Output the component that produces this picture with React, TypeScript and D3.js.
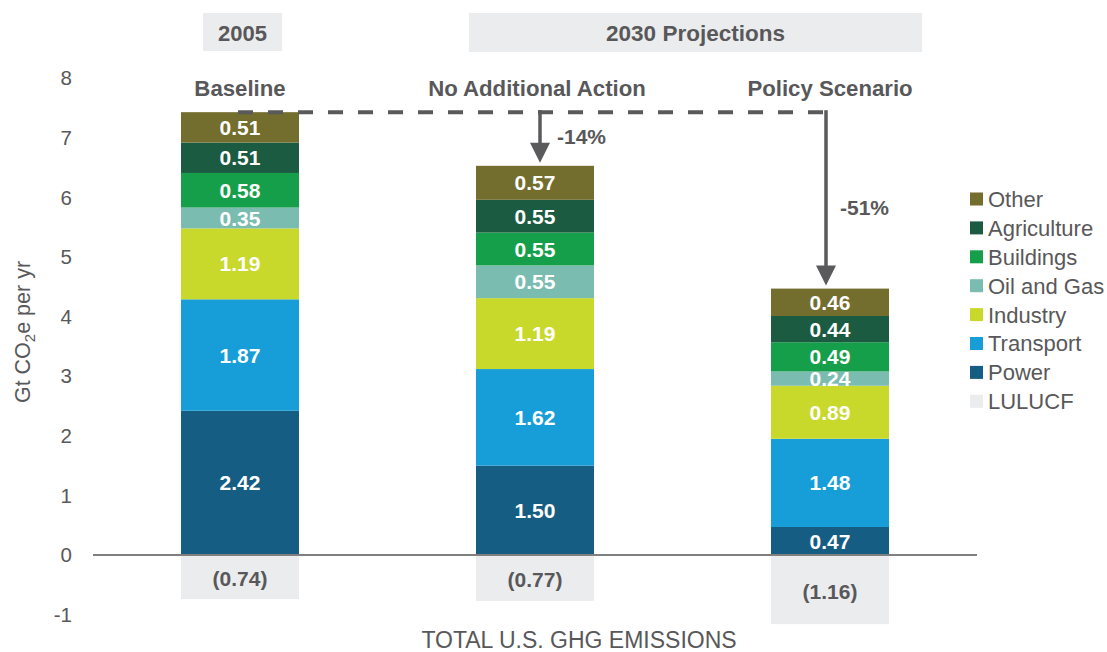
import React from "react";
import * as d3 from "d3";

const scenarios = ["Baseline", "No Additional Action", "Policy Scenario"];
const sectors = ["Power", "Transport", "Industry", "Oil and Gas", "Buildings", "Agriculture", "Other"];
const power = [2.42, 1.5, 0.47];
const transport = [1.87, 1.62, 1.48];
const industry = [1.19, 1.19, 0.89];
const oilGas = [0.35, 0.55, 0.24];
const buildings = [0.58, 0.55, 0.49];
const agriculture = [0.51, 0.55, 0.44];
const other = [0.51, 0.57, 0.46];
const lulucf = [-0.74, -0.77, -1.16];
const yTicks = [-1, 0, 1, 2, 3, 4, 5, 6, 7, 8];
const changeLabels = ["-14%", "-51%"];
const legendItems = ["Other", "Agriculture", "Buildings", "Oil and Gas", "Industry", "Transport", "Power", "LULUCF"];

const colors: Record<string, string> = {
  Other: "#736d2e",
  Agriculture: "#1b5b41",
  Buildings: "#169f4a",
  "Oil and Gas": "#7bbcb1",
  Industry: "#c9d92c",
  Transport: "#179ed8",
  Power: "#165d84",
  LULUCF: "#ebeced",
};

const seriesValues = [power, transport, industry, oilGas, buildings, agriculture, other];

const W = 1107;
const H = 652;
const FONT = "'Liberation Sans', Arial, Helvetica, sans-serif";
const TXT = "#58585a";

export default function App() {
  const y = d3.scaleLinear().domain([-1, 8]).range([614.6, 78.2]);
  const x = d3.scalePoint<string>().domain(scenarios).range([240, 830]);
  const barW = 118;

  const table = scenarios.map((s, i) => {
    const row: any = { scenario: s };
    sectors.forEach((k, j) => (row[k] = seriesValues[j][i]));
    return row;
  });
  const stacked = d3.stack<any>().keys(sectors)(table);
  const totals = scenarios.map((_, i) => d3.sum(seriesValues, (v) => v[i]));
  const fmt = d3.format(".2f");

  const baseY = y(totals[0]);
  const arrowX = [x(scenarios[1])! + 5, x(scenarios[2])! - 4];

  return (
    <svg width={W} height={H} style={{ position: "absolute", left: 0, top: 0, display: "block", background: "#fff" }} fontFamily={FONT}>
      {/* headers */}
      <rect x={203} y={13} width={79} height={38} fill="#ebeced" />
      <text x={242.5} y={41} textAnchor="middle" fontSize={22} fontWeight="bold" fill={TXT}>2005</text>
      <rect x={469} y={13} width={453} height={39} fill="#ebeced" />
      <text x={695.5} y={41} textAnchor="middle" fontSize={22.5} fontWeight="bold" fill={TXT}>2030 Projections</text>

      {/* scenario labels */}
      {scenarios.map((s) => (
        <text key={s} x={x(s)! + (s === "No Additional Action" ? 2 : 0)} y={96} textAnchor="middle" fontSize={22.2} fontWeight="bold" fill={TXT}>{s}</text>
      ))}

      {/* y ticks */}
      {yTicks.map((t) => (
        <text key={t} x={72} y={y(t)} dy="0.35em" textAnchor="end" fontSize={20.5} fill={TXT}>{t}</text>
      ))}

      {/* y label */}
      <text transform={`translate(30,332) rotate(-90)`} textAnchor="middle" fontSize={21.5} fill={TXT}>
        Gt CO<tspan fontSize={15} dy={5}>2</tspan><tspan dy={-5}>e per yr</tspan>
      </text>

      {/* LULUCF bars */}
      {scenarios.map((s, i) => (
        <g key={"l" + s}>
          <rect x={x(s)! - barW / 2} y={y(0)} width={barW} height={y(lulucf[i]) - y(0)} fill={colors.LULUCF} />
          <text x={x(s)} y={(y(0) + y(lulucf[i])) / 2 + 2} dy="0.35em" textAnchor="middle" fontSize={21} fontWeight="bold" fill={TXT}>
            ({fmt(Math.abs(lulucf[i]))})
          </text>
        </g>
      ))}

      {/* stacked bars */}
      {stacked.map((layer) => (
        <g key={layer.key}>
          {layer.map((d, i) => (
            <g key={i}>
              <rect x={x(d.data.scenario)! - barW / 2} y={y(d[1])} width={barW} height={y(d[0]) - y(d[1])} fill={colors[layer.key]} />
              <text x={x(d.data.scenario)} y={(y(d[0]) + y(d[1])) / 2} dy="0.36em" textAnchor="middle" fontSize={21} fontWeight="bold" fill="#fff">
                {fmt(d[1] - d[0])}
              </text>
            </g>
          ))}
        </g>
      ))}

      {/* zero axis */}
      <line x1={93} x2={977} y1={y(0)} y2={y(0)} stroke="#808080" strokeWidth={2} />

      {/* dashed reference line */}
      <line x1={238} x2={arrowX[1]} y1={baseY} y2={baseY} stroke="#5a5a5c" strokeWidth={4} strokeDasharray="15,15" />

      {/* arrows */}
      {arrowX.map((ax, k) => {
        const tip = y(totals[k + 1]) - 3;
        return (
          <g key={"a" + k}>
            <line x1={ax} x2={ax} y1={baseY - 2} y2={tip - 18} stroke="#5a5a5c" strokeWidth={3.5} />
            <path d={`M${ax - 10},${tip - 20}L${ax + 10},${tip - 20}L${ax},${tip}Z`} fill="#5a5a5c" />
          </g>
        );
      })}
      <text x={557} y={137} dy="0.35em" fontSize={21} fontWeight="bold" fill={TXT}>{changeLabels[0]}</text>
      <text x={840} y={208} dy="0.35em" fontSize={21} fontWeight="bold" fill={TXT}>{changeLabels[1]}</text>

      {/* legend */}
      {legendItems.map((k, i) => (
        <g key={k} transform={`translate(970,${199 + i * 28.9})`}>
          <rect x={0} y={-6.5} width={13} height={13} fill={colors[k]} />
          <text x={18} y={0} dy="0.36em" fontSize={22} fill={TXT}>{k}</text>
        </g>
      ))}

      {/* x title */}
      <text x={579} y={648} textAnchor="middle" fontSize={23} fill={TXT}>TOTAL U.S. GHG EMISSIONS</text>
    </svg>
  );
}
